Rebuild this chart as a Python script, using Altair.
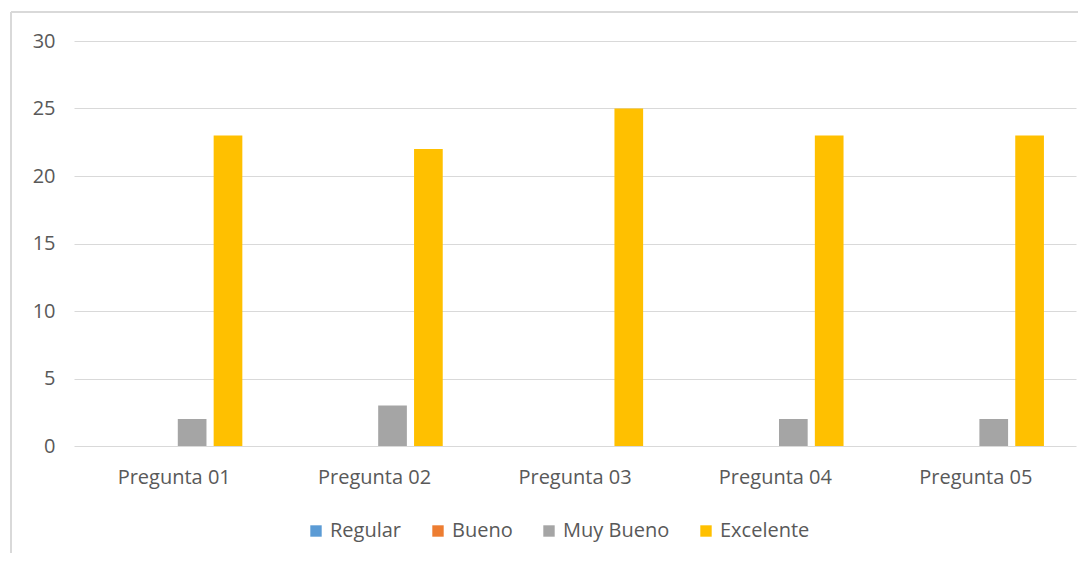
import altair as alt
import pandas as pd

categories = ["Pregunta 01", "Pregunta 02", "Pregunta 03", "Pregunta 04", "Pregunta 05"]
series = ["Regular", "Bueno", "Muy Bueno", "Excelente"]
regular = [0, 0, 0, 0, 0]
bueno = [0, 0, 0, 0, 0]
muy_bueno = [2, 3, 0, 2, 2]
excelente = [23, 22, 25, 23, 23]
colors = ["#5b9bd5", "#ed7d31", "#a5a5a5", "#ffc000"]

rows = []
for name, vals in zip(series, [regular, bueno, muy_bueno, excelente]):
    for c, v in zip(categories, vals):
        rows.append({"Pregunta": c, "Serie": name, "Valor": v})
df = pd.DataFrame(rows)

FONT = "Open Sans"
FS = 20
W, H = 1002, 405

bars = alt.Chart(df).mark_bar().encode(
    x=alt.X("Pregunta:N", sort=categories,
            scale=alt.Scale(paddingInner=0.32, paddingOuter=0.16),
            axis=alt.Axis(title=None, labelAngle=0, domain=False, ticks=False,
                          labelPadding=21, labelFontSize=FS, labelColor="#595959",
                          labelFont=FONT)),
    xOffset=alt.XOffset("Serie:N", sort=series,
                        scale=alt.Scale(paddingInner=0.2, paddingOuter=0)),
    y=alt.Y("Valor:Q", scale=alt.Scale(domain=[0, 30]),
            axis=alt.Axis(title=None, values=[0, 5, 10, 15, 20, 25, 30], domain=False,
                          ticks=False, labelPadding=19, labelFontSize=FS,
                          labelColor="#595959", labelFont=FONT,
                          gridColor="#d9d9d9", gridWidth=1)),
    color=alt.Color("Serie:N", sort=series,
                    scale=alt.Scale(domain=series, range=colors),
                    legend=alt.Legend(title=None, orient="none", direction="horizontal",
                                      legendX=232, legendY=480,
                                      symbolType="square", symbolSize=130,
                                      symbolStrokeWidth=0,
                                      labelFontSize=FS, labelColor="#595959",
                                      labelFont=FONT, columnPadding=26,
                                      symbolOffset=0, labelOffset=4)),
)

frame_left = alt.Chart(df).mark_rule(color="#d9d9d9", strokeWidth=2).encode(
    x=alt.value(-63), y=alt.value(-29), y2=alt.value(561 - 41))
frame_top = alt.Chart(df).mark_rule(color="#d9d9d9", strokeWidth=2).encode(
    x=alt.value(-63), x2=alt.value(1086 - 74), y=alt.value(-29))

chart = alt.layer(bars, frame_left, frame_top).properties(
    width=W, height=H,
    autosize=alt.AutoSizeParams(type="none"),
    padding={"left": 66, "top": 33, "right": 2, "bottom": 107},
    background="white",
).configure_view(stroke=None)

chart.save("out.html", embed_options={"renderer": "svg", "actions": False})
